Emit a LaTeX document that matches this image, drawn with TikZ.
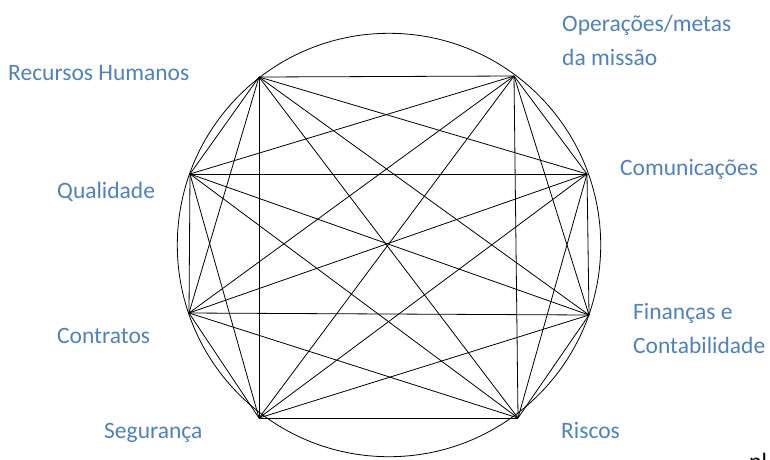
\documentclass[tikz,border=0pt]{standalone}
\usepackage{fontspec}
\setmainfont{Carlito}
\definecolor{lblblue}{RGB}{79,129,189}
\begin{document}
\begin{tikzpicture}[x=1pt,y=-1pt,
  lbl/.style={anchor=base west,inner sep=0pt,text=lblblue,font=\fontsize{23.5}{33.5}\selectfont,align=left},
  edge/.style={draw=black,line width=0.8pt}]
\useasboundingbox (0,0) rectangle (770,459);
\path[clip] (0,0) rectangle (770,459);
% circle
\node[draw=black,line width=0.8pt,circle,minimum size=423.4pt,inner sep=0pt] (circ) at (389,245) {};
% vertices
\coordinate (A) at (259,77);
\coordinate (B) at (514,76);
\coordinate (C) at (587,174);
\coordinate (D) at (589,315);
\coordinate (E) at (518,418);
\coordinate (F) at (259,418);
\coordinate (G) at (189,313);
\coordinate (H) at (190,174);
% complete graph
\foreach \u/\vlist in {A/{B,C,D,E,F,G,H},B/{C,D,E,F,G,H},C/{D,E,F,G,H},D/{E,F,G,H},E/{F,G,H},F/{G,H},G/{H}}{
  \foreach \v in \vlist { \draw[edge] (\u) -- (\v); }
}
% labels
\node[lbl] (lA) at (8,80) {Recursos Humanos};
\node[lbl] (lB) at (562,65) {Operações/metas\\da missão};
\node[lbl] (lC) at (620,175) {Comunicações};
\node[lbl] (lD) at (633,353) {Finanças e\\Contabilidade};
\node[lbl] (lE) at (561,438) {Riscos};
\node[lbl] (lF) at (104,438) {Segurança};
\node[lbl] (lG) at (57,343) {Contratos};
\node[lbl] (lH) at (57,198) {Qualidade};
\node[anchor=base west,inner sep=0pt,font=\fontsize{23.5}{33.5}\selectfont] (pl) at (749,469) {pl};
\end{tikzpicture}
\end{document}
